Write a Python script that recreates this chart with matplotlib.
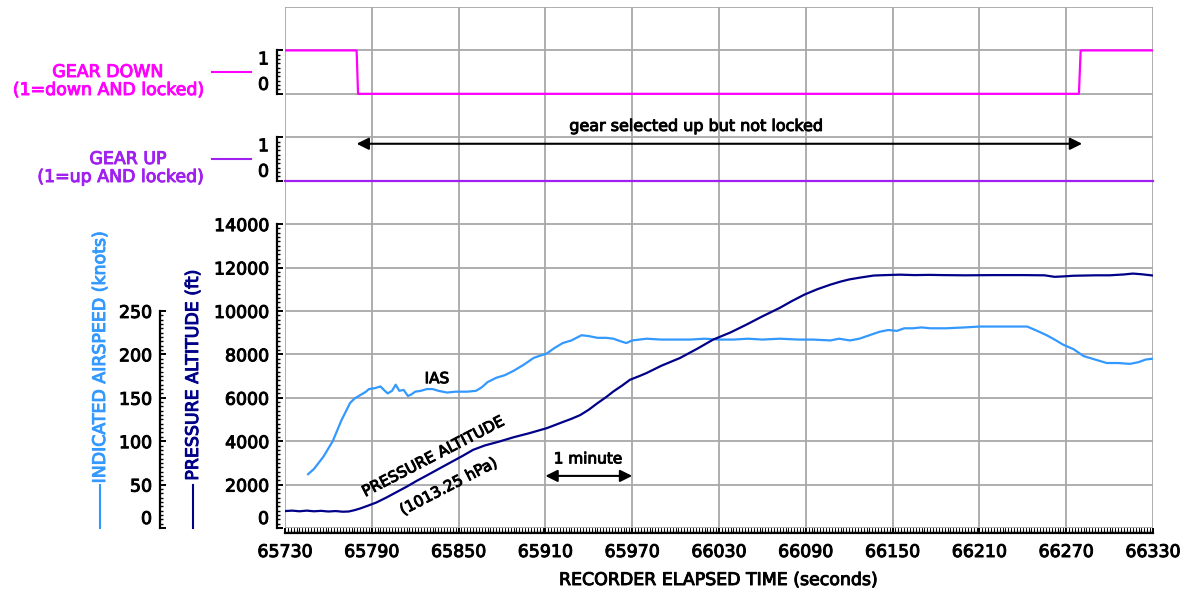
import matplotlib
matplotlib.use("Agg")
import matplotlib.pyplot as plt
from matplotlib.lines import Line2D
from matplotlib.ticker import MultipleLocator, FixedLocator
import matplotlib.patheffects as pe

plt.rcParams['font.family'] = ['DejaVu Sans']

# ---------------- data ----------------
ias_t = [65746, 65750, 65756.5, 65763, 65769, 65775, 65778, 65782, 65786, 65788, 65792, 65796,
         65799, 65801, 65804, 65806.5, 65809, 65812, 65815, 65817.5, 65820, 65824, 65828, 65832,
         65836, 65842, 65848, 65856, 65862, 65866, 65870, 65876, 65882, 65888, 65895, 65902,
         65911, 65916, 65922, 65928, 65935, 65940, 65946, 65952, 65957, 65962, 65966, 65970,
         65975, 65980, 65990, 66000, 66010, 66020, 66030, 66040, 66050, 66060, 66072, 66085,
         66095, 66107, 66113, 66120.5, 66127, 66134, 66141, 66147, 66153, 66158, 66164, 66170,
         66176, 66187, 66200, 66210, 66222, 66233, 66243, 66250, 66256.5, 66262, 66268, 66275,
         66282, 66290, 66298, 66306, 66314, 66320, 66325, 66330]
ias_v = [62, 68, 82, 100, 124, 144, 149, 153, 157, 160, 161, 163,
         158, 155, 158, 165, 158, 159, 152, 154, 157, 158, 160, 160,
         158, 156, 157, 157, 158, 162, 168, 173, 176, 181, 188, 196,
         201, 207, 213, 216, 222, 221, 219, 219, 218, 215, 213, 216,
         217, 218, 217, 217, 217, 218, 217, 217, 218, 217, 218, 217,
         217, 216, 218, 216, 218, 222, 226, 228, 227, 230, 230, 231,
         230, 230, 231, 232, 232, 232, 232, 227, 222, 217, 211, 206,
         198, 194, 190, 190, 189, 191, 194, 195]

alt_t = [65730, 65735, 65740, 65745, 65750, 65755, 65760, 65765, 65770, 65774, 65778, 65782,
         65787, 65793, 65800, 65807, 65814, 65821, 65828, 65837, 65845, 65853, 65860, 65868,
         65878, 65888, 65899, 65911, 65922, 65928, 65934, 65940, 65946, 65952, 65957, 65963,
         65968.5, 65975, 65980, 65990, 66003, 66015, 66026, 66038, 66049, 66060, 66072, 66080,
         66089, 66098, 66107, 66114, 66120, 66128, 66137, 66145, 66155, 66165, 66175, 66185,
         66200, 66220, 66240, 66255, 66262, 66268, 66275, 66290, 66300, 66310, 66316, 66322, 66330]
alt_v = [780, 800, 770, 800, 770, 790, 760, 780, 750, 760, 820, 900,
         1020, 1170, 1400, 1650, 1900, 2170, 2420, 2750, 3040, 3330, 3600, 3800,
         3980, 4180, 4370, 4600, 4880, 5030, 5200, 5450, 5750, 6030, 6290, 6560,
         6830, 7000, 7140, 7470, 7830, 8260, 8680, 9010, 9370, 9750, 10140, 10440,
         10750, 11000, 11210, 11350, 11450, 11540, 11630, 11650, 11670, 11650, 11660, 11650,
         11640, 11650, 11650, 11640, 11570, 11590, 11620, 11640, 11640, 11680, 11720, 11690, 11630]

gd_t = [65730, 65779.5, 65780.5, 66278.8, 66280, 66330]
gd_v = [1, 1, 0, 0, 1, 1]
gu_t = [65730, 66330]
gu_v = [0, 0]

x_ticks = list(range(65730, 66331, 60))
alt_ticks = list(range(0, 14001, 2000))
ias_ticks = list(range(0, 251, 50))

# ---------------- styles ----------------
C_GD = '#ff00ff'
C_GU = '#a020f0'
C_IAS = '#3399ff'
C_ALT = '#000088'
GRID = '#a8a8a8'
FS = 12.5

W, H = 1189, 597
fig = plt.figure(figsize=(W / 100, H / 100), dpi=100)
L, R, B, T = 285, 1153, 528, 7
pos = [L / W, 1 - B / H, (R - L) / W, (B - T) / H]


def px2pt(p):
    return p * 72 / 100


def bold(color):
    return [pe.withStroke(linewidth=0.7, foreground=color)]


# grid axes
axg = fig.add_axes(pos)
axg.set_xlim(65730, 66330)
axg.set_ylim(0, 24000)
axg.set_xticks(range(65730, 66331, 30))
axg.set_yticks(range(0, 24001, 2000))
axg.tick_params(length=0, labelleft=False, labelbottom=False)
axg.grid(True, color=GRID, lw=1.3)
for s in axg.spines.values():
    s.set_visible(False)
axg.set_zorder(0)


def overlay(ylim, zorder):
    a = fig.add_axes(pos, sharex=axg)
    a.set_facecolor('none')
    a.set_ylim(*ylim)
    for s in a.spines.values():
        s.set_visible(False)
    a.tick_params(bottom=False, labelbottom=False, left=False, labelleft=False)
    a.set_zorder(zorder)
    return a


def style_left(a, out_px, bounds, major, minor_list):
    sp = a.spines['left']
    sp.set_visible(True)
    sp.set_position(('outward', px2pt(out_px)))
    sp.set_bounds(*bounds)
    sp.set_linewidth(1.6)
    a.set_yticks(major)
    a.yaxis.set_minor_locator(FixedLocator(minor_list))
    a.tick_params(axis='y', which='major', left=True, labelleft=True, direction='in',
                  length=px2pt(6), width=1.4, labelsize=FS, pad=px2pt(8))
    a.tick_params(axis='y', which='minor', left=True, direction='in', length=px2pt(3), width=1.0)


# altitude axes (also carries the x axis)
axa = overlay((0, 24000), 3)
style_left(axa, 8, (0, 14000), alt_ticks, [v for v in range(0, 14001, 200) if v % 2000])
sb = axa.spines['bottom']
sb.set_visible(True)
sb.set_position(('outward', px2pt(5)))
sb.set_linewidth(1.6)
axa.set_xticks(x_ticks)
axa.xaxis.set_minor_locator(MultipleLocator(2))
axa.tick_params(axis='x', which='major', bottom=True, labelbottom=True, direction='in',
                length=px2pt(5), width=1.4, labelsize=FS, pad=px2pt(10))
axa.tick_params(axis='x', which='minor', bottom=True, direction='in', length=px2pt(3), width=1.0)
axa.set_xlabel('RECORDER ELAPSED TIME (seconds)', fontsize=FS, labelpad=px2pt(10),
               path_effects=bold('black'))
axa.plot(alt_t, alt_v, color=C_ALT, lw=1.6)

# IAS axes
axi = overlay((0, 600), 2)
style_left(axi, L - 160, (0, 250), ias_ticks, [v for v in range(0, 251, 5) if v % 50])
axi.plot(ias_t, ias_v, color=C_IAS, lw=1.6)

# gear axes
axd = overlay((-10, 2), 4)
style_left(axd, 8, (0, 1), [0, 1], [i / 10 for i in range(1, 10)])
axd.plot(gd_t, gd_v, color=C_GD, lw=1.6)

axu = overlay((-8, 4), 5)
style_left(axu, 8, (0, 1), [0, 1], [i / 10 for i in range(1, 10)])
axu.plot(gu_t, gu_v, color=C_GU, lw=1.6, clip_on=False)

# label offsets like the reference
for a in (axa, axi, axd, axu):
    labs = a.get_yticklabels()
    labs[0].set_va('bottom')
    for lab in labs:
        lab.set_path_effects(bold('black'))
for a in (axd, axu):
    a.get_yticklabels()[1].set_va('top')
for lab in axa.get_xticklabels():
    lab.set_path_effects(bold('black'))

# annotations (altitude-equivalent coordinates)
axa.annotate('', xy=(65779.5, 17700), xytext=(66281, 17700),
             arrowprops=dict(arrowstyle='<|-|>', color='black', lw=1.5,
                             mutation_scale=18, shrinkA=0, shrinkB=0), annotation_clip=False)
axa.text(66014.8, 18500, 'gear selected up but not locked', ha='center', va='center',
         fontsize=11.5, path_effects=bold('black'))
axa.annotate('', xy=(65910, 2400), xytext=(65970, 2400),
             arrowprops=dict(arrowstyle='<|-|>', color='black', lw=1.5,
                             mutation_scale=18, shrinkA=0, shrinkB=0))
axa.text(65939.4, 3184, '1 minute', ha='center', va='center', fontsize=11,
         path_effects=bold('black'))
axi.text(65835, 172, 'IAS', ha='center', va='center', fontsize=11, path_effects=bold('black'))
axa.text(65832.5, 3290, 'PRESSURE ALTITUDE', ha='center', va='center', fontsize=11,
         rotation=27.4, rotation_mode='anchor', path_effects=bold('black'))
axa.text(65842.9, 1906, '(1013.25 hPa)', ha='center', va='center', fontsize=11,
         rotation=27.4, rotation_mode='anchor', path_effects=bold('black'))


# left-side labels
def fx(x):
    return x / W


def fy(y):
    return 1 - y / H


fig.text(fx(108), fy(72), 'GEAR DOWN', color=C_GD, ha='center', va='center', fontsize=FS,
         path_effects=bold(C_GD))
fig.text(fx(109), fy(90), '(1=down AND locked)', color=C_GD, ha='center', va='center',
         fontsize=FS, path_effects=bold(C_GD))
fig.add_artist(Line2D([fx(212), fx(251)], [fy(72), fy(72)], color=C_GD, lw=1.5))
fig.text(fx(128), fy(159), 'GEAR UP', color=C_GU, ha='center', va='center', fontsize=FS,
         path_effects=bold(C_GU))
fig.text(fx(121), fy(177), '(1=up AND locked)', color=C_GU, ha='center', va='center',
         fontsize=FS, path_effects=bold(C_GU))
fig.add_artist(Line2D([fx(212), fx(251)], [fy(159), fy(159)], color=C_GU, lw=1.5))

fig.text(fx(100), fy(357), 'INDICATED AIRSPEED (knots)', color=C_IAS, rotation=90,
         ha='center', va='center', fontsize=FS, path_effects=bold(C_IAS))
fig.add_artist(Line2D([fx(100), fx(100)], [fy(485), fy(528)], color=C_IAS, lw=1.5))
fig.text(fx(193), fy(375), 'PRESSURE ALTITUDE (ft)', color=C_ALT, rotation=90,
         ha='center', va='center', fontsize=FS, path_effects=bold(C_ALT))
fig.add_artist(Line2D([fx(193), fx(193)], [fy(485), fy(528)], color=C_ALT, lw=1.5))

fig.savefig('out.png', dpi=100)
